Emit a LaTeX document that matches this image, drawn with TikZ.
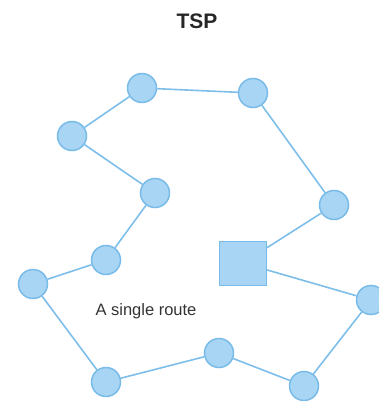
\documentclass[tikz,border=0pt]{standalone}
\usepackage{fontspec}
\setmainfont{Liberation Sans}
\usepackage{tikz}
\usetikzlibrary{positioning}
\definecolor{StopFill}{HTML}{A8D5F3}
\definecolor{StopEdge}{HTML}{78BBE8}
\definecolor{RouteLine}{HTML}{7DBEEA}

\begin{document}
\begin{tikzpicture}[x=1pt,y=-1pt,
stop/.style={circle,draw=StopEdge,fill=StopFill,line width=1.5pt,minimum size=29pt,inner sep=0pt},
depot/.style={rectangle,draw=StopEdge,fill=StopFill,line width=1pt,minimum width=47pt,minimum height=44pt,inner sep=0pt},
route/.style={draw=RouteLine,line width=1.6pt}]
\useasboundingbox (0,0) rectangle (378,401);
\node[font=\bfseries\fontsize{21}{24}\selectfont,text=black!85] (title) at (197,21) {TSP};
\node[stop] (s1) at (142,88) {};
\node[stop] (s2) at (253,93) {};
\node[stop] (s3) at (72,136) {};
\node[stop] (s4) at (155,193) {};
\node[stop] (s5) at (334,205) {};
\node[stop] (s6) at (106,260) {};
\node[stop] (s7) at (33,284) {};
\node[depot] (dep) at (243,263) {};
\node[stop] (s8) at (371,300) {};
\node[stop] (s9) at (219,353) {};
\node[stop] (s10) at (106,382) {};
\node[stop] (s11) at (304,386) {};
\node[font=\fontsize{16.5}{19}\selectfont,text=black!80] (lbl) at (146,311) {A single route};
\draw[route] (dep)--(s5) (s5)--(s2) (s2)--(s1) (s1)--(s3) (s3)--(s4) (s4)--(s6)
  (s6)--(s7) (s7)--(s10) (s10)--(s9) (s9)--(s11) (s11)--(s8) (s8)--(dep);
\end{tikzpicture}
\end{document}
